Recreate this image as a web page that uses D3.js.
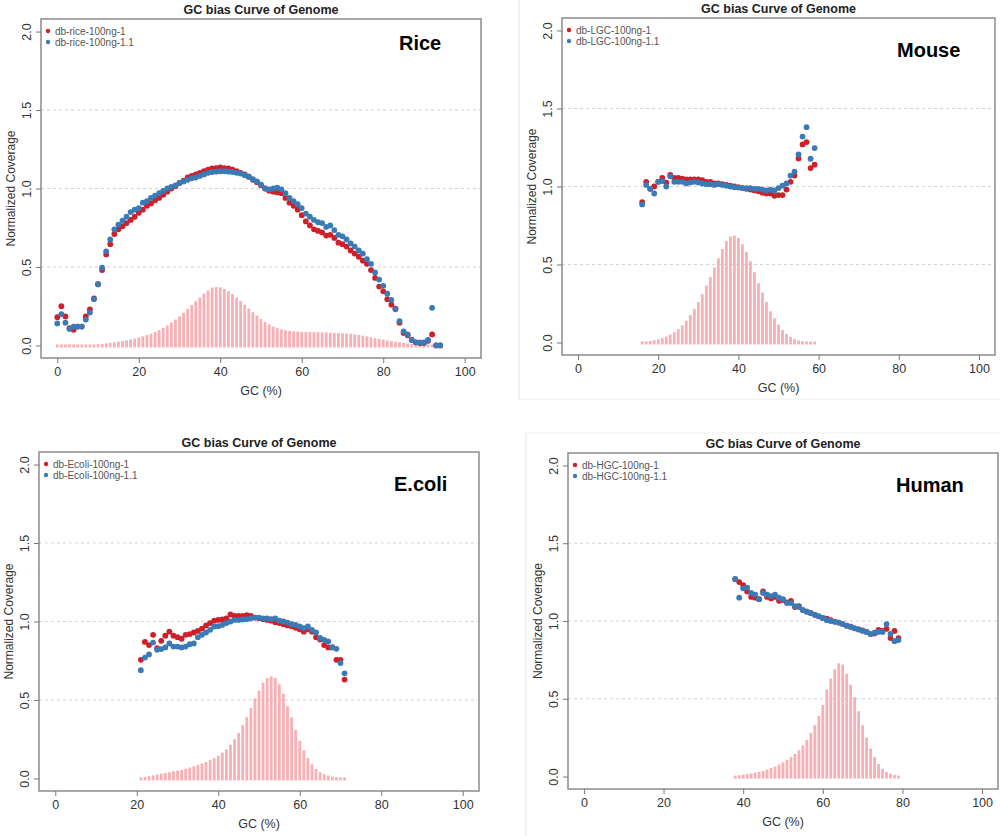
<!DOCTYPE html>
<html>
<head>
<meta charset="utf-8">
<script src="https://cdn.jsdelivr.net/npm/d3@7"></script>
<style>
  html, body { margin: 0; padding: 0; background: #fff; }
  svg { display: block; font-family: "Liberation Sans", Arial, sans-serif; }
</style>
</head>
<body>
<svg id="chart" width="1000" height="836"></svg>
<script>
// ---------------- DATA ----------------
const xTicks = [0, 20, 40, 60, 80, 100];
const yTicks = [0.0, 0.5, 1.0, 1.5, 2.0];
const gridValues = [0.5, 1.0, 1.5];
const chartTitle = "GC bias Curve of Genome";
const xAxisTitle = "GC (%)";
const yAxisTitle = "Normalized Coverage";

// Rice
const riceGC = [0,1,2,3,4,5,6,7,8,9,10,11,12,13,14,15,16,17,18,19,20,21,22,23,24,25,26,27,28,29,30,31,32,33,34,35,36,37,38,39,40,41,42,43,44,45,46,47,48,49,50,51,52,53,54,55,56,57,58,59,60,61,62,63,64,65,66,67,68,69,70,71,72,73,74,75,76,77,78,79,80,81,82,83,84,85,86,87,88,89,90,91,92,93,94];
const riceRed = [0.18,0.25,0.185,0.11,0.10,0.12,0.12,0.185,0.23,0.30,0.39,0.48,0.58,0.645,0.71,0.74,0.76,0.78,0.80,0.82,0.845,0.865,0.89,0.905,0.925,0.94,0.96,0.98,1.0,1.015,1.035,1.05,1.07,1.08,1.09,1.10,1.11,1.12,1.128,1.13,1.135,1.13,1.128,1.12,1.11,1.10,1.09,1.075,1.055,1.04,1.02,1.0,0.985,0.98,0.975,0.97,0.94,0.91,0.89,0.865,0.83,0.79,0.765,0.74,0.73,0.72,0.70,0.705,0.685,0.655,0.645,0.63,0.605,0.585,0.565,0.54,0.52,0.48,0.43,0.375,0.345,0.295,0.26,0.235,0.145,0.08,0.065,0.035,0.02,0.015,0.015,0.03,0.07,0.0,0.0];
const riceBlue = [0.14,0.20,0.145,0.105,0.12,0.12,0.12,0.165,0.21,0.295,0.39,0.495,0.60,0.675,0.74,0.77,0.795,0.82,0.85,0.865,0.875,0.91,0.92,0.94,0.955,0.97,0.985,1.0,1.01,1.02,1.035,1.045,1.055,1.065,1.07,1.08,1.09,1.10,1.105,1.107,1.11,1.11,1.107,1.105,1.10,1.095,1.085,1.075,1.06,1.045,1.025,1.0,0.995,1.0,1.005,0.995,0.97,0.94,0.92,0.90,0.875,0.84,0.82,0.80,0.785,0.78,0.755,0.765,0.735,0.705,0.695,0.675,0.65,0.63,0.605,0.585,0.55,0.52,0.465,0.42,0.38,0.33,0.29,0.23,0.155,0.09,0.07,0.035,0.02,0.02,0.02,0.035,0.24,0.0,0.0];
const riceBars = [0.003,0.003,0.003,0.003,0.003,0.003,0.003,0.004,0.005,0.006,0.008,0.010,0.013,0.016,0.02,0.024,0.028,0.033,0.038,0.044,0.05,0.058,0.066,0.075,0.086,0.098,0.112,0.128,0.146,0.165,0.186,0.208,0.232,0.257,0.282,0.305,0.33,0.35,0.368,0.372,0.37,0.36,0.345,0.327,0.305,0.283,0.26,0.235,0.212,0.19,0.168,0.15,0.134,0.12,0.11,0.102,0.097,0.093,0.09,0.088,0.087,0.086,0.085,0.085,0.084,0.083,0.082,0.081,0.08,0.079,0.078,0.076,0.074,0.071,0.067,0.063,0.058,0.052,0.046,0.041,0.036,0.031,0.027,0.023,0.02,0.016,0.013,0.01,0.008,0.006,0.005,0.004,0.003,null,null];

// Mouse
const mouseGC = [16,17,18,19,20,21,22,23,24,25,26,27,28,29,30,31,32,33,34,35,36,37,38,39,40,41,42,43,44,45,46,47,48,49,50,51,52,53,54,55,56,57,58,59];
const mouseRed = [0.90,1.03,0.985,1.0,1.03,1.055,1.025,1.075,1.055,1.055,1.05,1.045,1.045,1.045,1.045,1.04,1.03,1.03,1.02,1.02,1.015,1.01,1.005,1.0,0.995,0.99,0.985,0.98,0.975,0.97,0.96,0.955,0.955,0.94,0.945,0.945,0.98,1.03,1.07,1.18,1.27,1.285,1.118,1.14];
const mouseBlue = [0.885,1.01,0.985,0.955,1.03,1.035,1.0,1.065,1.03,1.03,1.03,1.02,1.025,1.03,1.025,1.02,1.015,1.015,1.01,1.015,1.01,1.005,1.0,0.995,0.995,0.99,0.99,0.99,0.985,0.985,0.98,0.975,0.98,0.975,0.99,1.005,1.02,1.07,1.095,1.205,1.32,1.38,1.178,1.246];
const mouseBars = [0.005,0.008,0.01,0.015,0.02,0.028,0.038,0.05,0.065,0.085,0.11,0.14,0.175,0.215,0.26,0.31,0.365,0.42,0.48,0.54,0.60,0.65,0.68,0.685,0.67,0.63,0.58,0.52,0.45,0.38,0.32,0.26,0.20,0.155,0.115,0.08,0.055,0.035,0.022,0.013,0.008,0.005,0.003,0.002];

// E.coli
const ecoliGC = [21,22,23,24,25,26,27,28,29,30,31,32,33,34,35,36,37,38,39,40,41,42,43,44,45,46,47,48,49,50,51,52,53,54,55,56,57,58,59,60,61,62,63,64,65,66,67,68,69,70,71];
const ecoliRed = [0.756,0.87,0.85,0.915,0.83,0.877,0.91,0.935,0.91,0.90,0.89,0.915,0.92,0.93,0.94,0.955,0.975,0.99,1.005,1.01,1.013,1.02,1.045,1.035,1.035,1.035,1.04,1.036,1.025,1.02,1.015,1.01,1.005,0.995,0.99,0.983,0.975,0.97,0.96,0.95,0.935,0.95,0.935,0.90,0.885,0.85,0.835,0.835,0.756,0.756,0.63];
const ecoliBlue = [0.69,0.77,0.79,0.866,0.82,0.824,0.835,0.86,0.84,0.84,0.835,0.84,0.855,0.86,0.90,0.915,0.93,0.947,0.968,0.97,0.978,0.99,1.0,1.01,1.01,1.013,1.015,1.02,1.025,1.025,1.02,1.02,1.015,1.02,1.005,1.0,0.993,0.983,0.978,0.968,0.958,0.968,0.947,0.93,0.895,0.883,0.873,0.837,0.826,0.735,0.67];
const ecoliBars = [0.005,0.01,0.015,0.02,0.025,0.03,0.035,0.04,0.045,0.05,0.055,0.062,0.07,0.077,0.085,0.095,0.105,0.118,0.13,0.145,0.165,0.185,0.215,0.25,0.29,0.34,0.39,0.45,0.51,0.56,0.61,0.64,0.65,0.64,0.60,0.54,0.46,0.39,0.31,0.24,0.18,0.13,0.09,0.06,0.04,0.027,0.018,0.012,0.008,0.005,0.003];

// Human
const humanGC = [38,39,40,41,42,43,44,45,46,47,48,49,50,51,52,53,54,55,56,57,58,59,60,61,62,63,64,65,66,67,68,69,70,71,72,73,74,75,76,77,78,79];
const humanRed = [1.268,1.25,1.23,1.19,1.155,1.15,1.14,1.19,1.155,1.145,1.155,1.13,1.135,1.12,1.13,1.09,1.095,1.07,1.06,1.05,1.04,1.03,1.02,1.015,1.005,0.996,0.99,0.98,0.97,0.963,0.953,0.946,0.94,0.93,0.916,0.92,0.942,0.936,0.95,0.89,0.936,0.89];
const humanBlue = [1.27,1.15,1.21,1.215,1.18,1.17,1.14,1.18,1.17,1.16,1.17,1.15,1.14,1.115,1.115,1.095,1.09,1.07,1.06,1.05,1.04,1.03,1.02,1.005,1.0,0.995,0.99,0.98,0.97,0.963,0.953,0.946,0.936,0.93,0.916,0.925,0.93,0.93,0.98,0.917,0.87,0.878];
const humanBars = [0.005,0.008,0.012,0.016,0.02,0.025,0.03,0.037,0.045,0.055,0.065,0.078,0.092,0.108,0.125,0.145,0.17,0.20,0.235,0.28,0.33,0.39,0.46,0.56,0.63,0.69,0.728,0.72,0.66,0.59,0.51,0.42,0.33,0.25,0.18,0.125,0.08,0.05,0.03,0.018,0.01,0.005];

// ---------------- LAYOUT ----------------
const panels = [
  { label: "Rice",   legend: ["db-rice-100ng-1", "db-rice-100ng-1.1"],   gc: riceGC,  red: riceRed,  blue: riceBlue,  bars: riceBars,
    box: [41, 19, 481, 358],  labelPos: [399, 50] },
  { label: "Mouse",  legend: ["db-LGC-100ng-1", "db-LGC-100ng-1.1"],     gc: mouseGC, red: mouseRed, blue: mouseBlue, bars: mouseBars,
    box: [562, 18, 995, 355], labelPos: [897, 57] },
  { label: "E.coli", legend: ["db-Ecoli-100ng-1", "db-Ecoli-100ng-1.1"], gc: ecoliGC, red: ecoliRed, blue: ecoliBlue, bars: ecoliBars,
    box: [39, 452, 479, 791], labelPos: [394, 491] },
  { label: "Human",  legend: ["db-HGC-100ng-1", "db-HGC-100ng-1.1"],     gc: humanGC, red: humanRed, blue: humanBlue, bars: humanBars,
    box: [568, 453, 998, 789], labelPos: [896, 492] }
];

const RED = "#cf1f28", BLUE = "#3a7ab6", BAR = "#f7b0b5";

const svg = d3.select("#chart");
svg.append("rect").attr("width", 1000).attr("height", 836).attr("fill", "#fff");

// faint screenshot frames
svg.append("line").attr("x1", 519).attr("x2", 519).attr("y1", 0).attr("y2", 399).attr("stroke", "#e4e4e4");
svg.append("line").attr("x1", 519).attr("x2", 1000).attr("y1", 399).attr("y2", 399).attr("stroke", "#ececec");
svg.append("line").attr("x1", 526).attr("x2", 526).attr("y1", 433).attr("y2", 836).attr("stroke", "#e4e4e4");
svg.append("line").attr("x1", 526).attr("x2", 1000).attr("y1", 433).attr("y2", 433).attr("stroke", "#f0f0f0");

function drawPanel(p) {
  const [L, T, R, B] = p.box;
  const g = svg.append("g");
  const x = d3.scaleLinear().domain([-4, 104]).range([L, R]);
  const y = d3.scaleLinear().domain([-0.08, 2.08]).range([B, T]);

  // grid
  g.selectAll("line.grid").data(gridValues).join("line").attr("class", "grid")
    .attr("x1", L).attr("x2", R).attr("y1", d => y(d)).attr("y2", d => y(d))
    .attr("stroke", "#d4d4d4").attr("stroke-width", 1).attr("stroke-dasharray", "3,3");

  // bars
  const barData = p.gc.map((v, i) => [v, p.bars[i]]).filter(d => d[1] != null);
  g.selectAll("rect.bar").data(barData).join("rect").attr("class", "bar")
    .attr("x", d => x(d[0]) - 1.4).attr("width", 2.8)
    .attr("y", d => Math.min(y(d[1]), y(0) - 1))
    .attr("height", d => y(0) + 2 - Math.min(y(d[1]), y(0) - 1))
    .attr("fill", BAR);

  // points
  const redData = p.gc.map((v, i) => [v, p.red[i]]).filter(d => d[1] != null);
  const blueData = p.gc.map((v, i) => [v, p.blue[i]]).filter(d => d[1] != null);
  g.selectAll("circle.red").data(redData).join("circle").attr("class", "red")
    .attr("cx", d => x(d[0])).attr("cy", d => y(d[1])).attr("r", 2.9).attr("fill", RED);
  g.selectAll("circle.blue").data(blueData).join("circle").attr("class", "blue")
    .attr("cx", d => x(d[0])).attr("cy", d => y(d[1])).attr("r", 2.9).attr("fill", BLUE);

  // box
  g.append("rect").attr("x", L).attr("y", T).attr("width", R - L).attr("height", B - T)
    .attr("fill", "none").attr("stroke", "#8c8c8c").attr("stroke-width", 1.5);

  // x axis
  const xa = g.append("g").attr("transform", `translate(0,${B})`)
    .call(d3.axisBottom(x).tickValues(xTicks).tickSize(5).tickPadding(4));
  xa.select(".domain").remove();
  xa.selectAll(".tick line").attr("stroke", "#777");
  xa.selectAll(".tick text").attr("font-size", 12.5).attr("fill", "#333")
    .attr("font-family", "Liberation Sans, Arial, sans-serif");

  // y axis
  const ya = g.append("g").attr("transform", `translate(${L},0)`)
    .call(d3.axisLeft(y).tickValues(yTicks).tickFormat(d3.format(".1f")).tickSize(5));
  ya.select(".domain").remove();
  ya.selectAll(".tick line").attr("stroke", "#777");
  ya.selectAll(".tick text").attr("font-size", 12.5).attr("fill", "#333")
    .attr("font-family", "Liberation Sans, Arial, sans-serif")
    .attr("x", null).attr("dy", null).attr("text-anchor", "middle")
    .attr("transform", "translate(-10,0) rotate(-90)");

  // axis titles
  g.append("text").attr("x", (L + R) / 2).attr("y", B + 37).attr("text-anchor", "middle")
    .attr("font-size", 12.5).attr("fill", "#333").text(xAxisTitle);
  g.append("text").attr("transform", `translate(${L - 26},${(T + B) / 2}) rotate(-90)`)
    .attr("text-anchor", "middle").attr("font-size", 12).attr("fill", "#333").text(yAxisTitle);

  // title
  g.append("text").attr("x", (L + R) / 2).attr("y", T - 5).attr("text-anchor", "middle")
    .attr("font-size", 12.5).attr("font-weight", "bold").attr("fill", "#222").text(chartTitle);

  // legend
  const lg = g.append("g").attr("transform", `translate(${L + 7},${T + 12})`);
  [RED, BLUE].forEach((c, i) => {
    lg.append("circle").attr("cx", 0).attr("cy", i * 11).attr("r", 2.2).attr("fill", c);
    lg.append("text").attr("x", 7).attr("y", i * 11).attr("dy", "0.35em")
      .attr("font-size", 10).attr("fill", "#555").text(p.legend[i]);
  });

  // species label
  g.append("text").attr("x", p.labelPos[0]).attr("y", p.labelPos[1])
    .attr("font-size", 20).attr("font-weight", "bold").attr("fill", "#000").text(p.label);
}

panels.forEach(drawPanel);
</script>
</body>
</html>
